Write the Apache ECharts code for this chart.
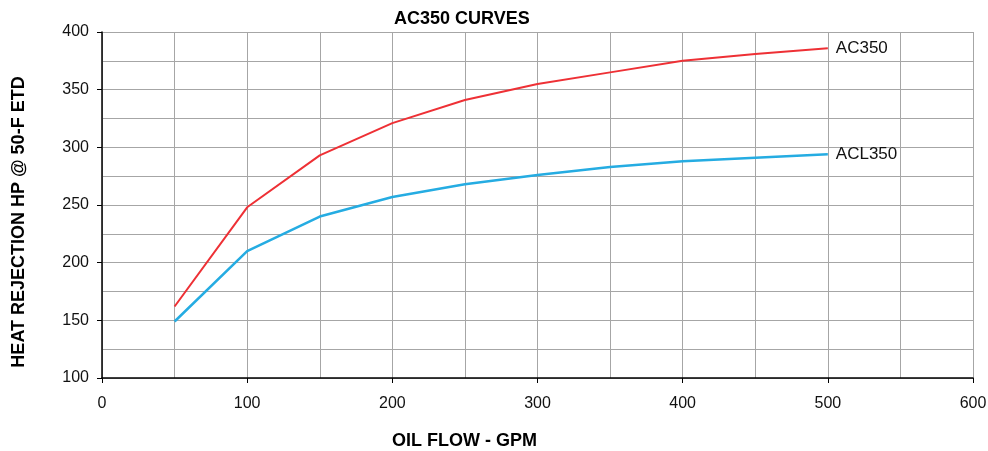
<!DOCTYPE html>
<html>
<head>
<meta charset="utf-8">
<script src="https://cdn.jsdelivr.net/npm/echarts@6/dist/echarts.min.js"></script>
<style>
html,body{margin:0;padding:0;background:#fff;}
#chart{width:988px;height:451px;}
</style>
</head>
<body>
<div id="chart"></div>
<script>
const flow = [50, 100, 150, 200, 250, 300, 350, 400, 450, 500];
const ac350 = [162, 248, 293, 321, 341, 355, 365, 375, 381, 386];
const acl350 = [149, 210, 240, 257, 268, 276, 283, 288, 291, 294];
const seriesNames = ['AC350', 'ACL350'];
const titleText = 'AC350 CURVES';
const xName = 'OIL FLOW - GPM';
const yName = 'HEAT REJECTION HP @ 50-F ETD';

const FONT = 'Liberation Sans, Arial, sans-serif';
const chart = echarts.init(document.getElementById('chart'));
const pairs = v => flow.map((x, i) => [x, v[i]]);

chart.setOption({
  animation: false,
  backgroundColor: '#fff',
  title: {
    text: titleText,
    left: 389, top: 5,
    textStyle: {fontFamily: FONT, fontSize: 18, fontWeight: 'bold', color: '#000'}
  },
  grid: {left: 102, right: 15, top: 32, bottom: 73, containLabel: false, outerBoundsMode: 'none'},
  xAxis: {
    type: 'value', min: 0, max: 600, interval: 100,
    name: xName, nameLocation: 'middle', nameGap: 54,
    nameTextStyle: {fontFamily: FONT, fontSize: 18, fontWeight: 'bold', color: '#000', padding: [0, 146, 0, 0]},
    axisLine: {show: true, lineStyle: {color: '#000', width: 1.5}},
    axisTick: {show: true, length: 5, lineStyle: {color: '#000'}},
    axisLabel: {fontFamily: FONT, fontSize: 16, color: '#111', margin: 18},
    splitLine: {show: true, lineStyle: {color: '#a6a6a6', width: 1}},
    minorTick: {show: false, splitNumber: 2},
    minorSplitLine: {show: true, lineStyle: {color: '#a6a6a6', width: 1}}
  },
  yAxis: {
    type: 'value', min: 100, max: 400, interval: 50,
    name: yName, nameLocation: 'middle', nameGap: 74,
    nameTextStyle: {fontFamily: FONT, fontSize: 18, fontWeight: 'bold', color: '#000', padding: [0, 34, 0, 0]},
    axisLine: {show: true, lineStyle: {color: '#000', width: 1.5}},
    axisTick: {show: true, length: 5, lineStyle: {color: '#000'}},
    axisLabel: {fontFamily: FONT, fontSize: 16, color: '#111', margin: 13},
    splitLine: {show: true, lineStyle: {color: '#a6a6a6', width: 1}},
    minorTick: {show: false, splitNumber: 2},
    minorSplitLine: {show: true, lineStyle: {color: '#a6a6a6', width: 1}}
  },
  series: [
    {
      name: seriesNames[0], type: 'line', data: pairs(ac350),
      symbol: 'none', lineStyle: {color: '#ee3035', width: 2},
      endLabel: {show: true, formatter: seriesNames[0], fontFamily: FONT, fontSize: 17, color: '#111', distance: 8}
    },
    {
      name: seriesNames[1], type: 'line', data: pairs(acl350),
      symbol: 'none', lineStyle: {color: '#25ace2', width: 2.5},
      endLabel: {show: true, formatter: seriesNames[1], fontFamily: FONT, fontSize: 17, color: '#111', distance: 8}
    }
  ]
});
</script>
</body>
</html>
